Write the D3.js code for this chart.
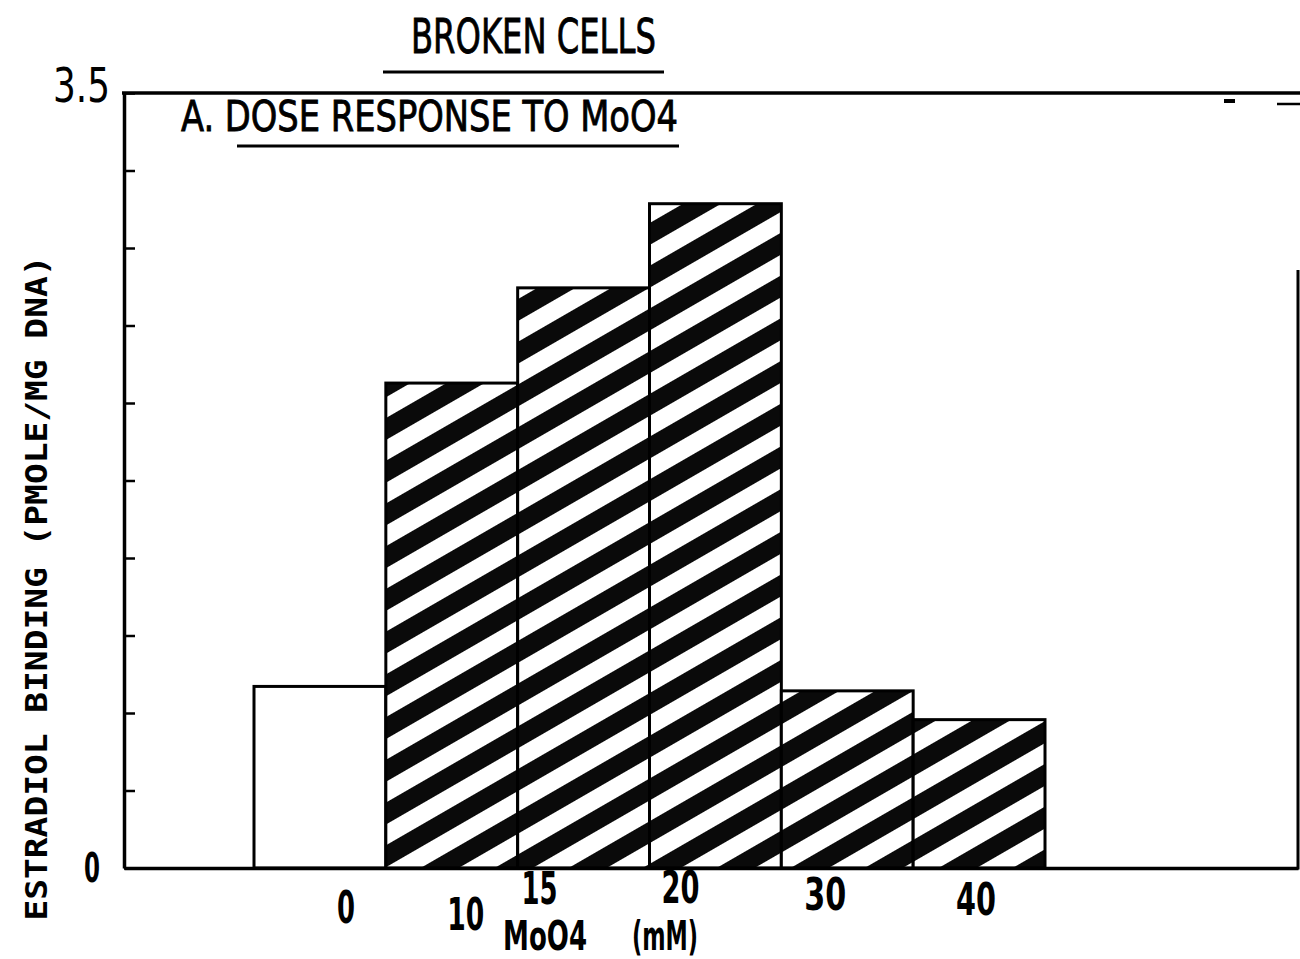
<!DOCTYPE html>
<html>
<head>
<meta charset="utf-8">
<script src="https://cdn.jsdelivr.net/npm/d3@7"></script>
<style>
  html, body { margin: 0; padding: 0; background: #fff; }
  svg { display: block; }
  .lbl { font-family: "Liberation Sans Narrow", "DejaVu Sans Condensed", "Liberation Sans", sans-serif; fill: #000; }
</style>
</head>
<body>
<svg id="chart" width="1300" height="959"></svg>
<script>
// MoO4 concentrations (mM) and estradiol binding (pmole / mg DNA)
const categories = ["0", "10", "15", "20", "30", "40"];
const binding = [0.82, 2.19, 2.62, 3.00, 0.80, 0.67];
const hatched = [false, true, true, true, true, true];

// y axis: tick marks every 0.35, labelled only at the ends
const yTickValues = [0, 0.35, 0.7, 1.05, 1.4, 1.75, 2.1, 2.45, 2.8, 3.15, 3.5];
const yLabelValues = [0, 3.5];
const yLabelText = ["0", "3.5"];

// typed tick labels sit a little off the bar centres (dx from centre, dy below axis)
const tickNudge = [[26, 55], [14, 62], [-44, 36], [-35, 35], [-22, 42], [-3, 47]];
const tickWidths = [18, 37, 36, 38, 42, 40];

const svg = d3.select("#chart");
const frame = { left: 124, right: 1298, top: 93, bottom: 868 };

const x = d3.scaleBand().domain(categories).range([254, 1045]).paddingInner(0).paddingOuter(0);
const y = d3.scaleLinear().domain([0, 3.5]).range([frame.bottom, frame.top]);

// diagonal hatch fill
const defs = svg.append("defs");
const pat = defs.append("pattern")
  .attr("id", "hatch")
  .attr("patternUnits", "userSpaceOnUse")
  .attr("width", 37).attr("height", 37)
  .attr("patternTransform", "rotate(-30)");
pat.append("rect").attr("width", 37).attr("height", 37).attr("fill", "#fff");
pat.append("rect").attr("width", 37).attr("height", 19).attr("fill", "#0a0a0a");

const data = categories.map((c, i) => ({ c, v: binding[i], h: hatched[i], i }));

// bars
svg.append("g").selectAll("rect")
  .data(data)
  .join("rect")
  .attr("x", d => x(d.c))
  .attr("y", d => y(d.v))
  .attr("width", x.bandwidth())
  .attr("height", d => y(0) - y(d.v))
  .attr("fill", d => d.h ? "url(#hatch)" : "#fff")
  .attr("stroke", "#000")
  .attr("stroke-width", 3);

// frame: left axis with inward ticks
const yAxis = d3.axisLeft(y).tickValues(yTickValues).tickSizeInner(-11).tickSizeOuter(0).tickFormat("");
const gy = svg.append("g").attr("transform", `translate(${frame.left},0)`).call(yAxis);
gy.select(".domain").attr("stroke", "#000").attr("stroke-width", 3.5);
gy.selectAll(".tick line").attr("stroke", "#000").attr("stroke-width", 2.5);

// bottom axis line
const xAxis = d3.axisBottom(d3.scaleLinear().domain([0, 1]).range([frame.left, frame.right])).tickValues([]).tickSizeOuter(0);
const gx = svg.append("g").attr("transform", `translate(0,${frame.bottom})`).call(xAxis);
gx.select(".domain").attr("stroke", "#000").attr("stroke-width", 3.5);

// top and right border
svg.append("line").attr("x1", frame.left - 2).attr("x2", 1300)
  .attr("y1", y(3.5)).attr("y2", y(3.5)).attr("stroke", "#000").attr("stroke-width", 3.5);
svg.append("line").attr("x1", frame.right).attr("x2", frame.right)
  .attr("y1", 270).attr("y2", frame.bottom + 1.5).attr("stroke", "#000").attr("stroke-width", 3);
svg.append("line").attr("x1", 1277).attr("x2", 1300)
  .attr("y1", 104).attr("y2", 104).attr("stroke", "#000").attr("stroke-width", 2.5);
svg.append("line").attr("x1", 1224).attr("x2", 1235)
  .attr("y1", 101).attr("y2", 101).attr("stroke", "#000").attr("stroke-width", 4);

// y labels
svg.append("text").attr("class", "lbl")
  .attr("x", 110).attr("y", y(yLabelValues[1]) + 9)
  .attr("text-anchor", "end").attr("font-size", 48)
  .attr("textLength", 57).attr("lengthAdjust", "spacingAndGlyphs")
  .text(yLabelText[1]);
svg.append("text").attr("class", "lbl")
  .attr("x", 84).attr("y", y(yLabelValues[0]) + 14)
  .attr("font-size", 40).attr("font-weight", "bold")
  .attr("textLength", 16).attr("lengthAdjust", "spacingAndGlyphs")
  .text(yLabelText[0]);

// category labels
svg.append("g").selectAll("text")
  .data(data)
  .join("text")
  .attr("class", "lbl")
  .attr("x", d => x(d.c) + x.bandwidth() / 2 + tickNudge[d.i][0] - tickWidths[d.i] / 2)
  .attr("y", d => y(0) + tickNudge[d.i][1])
  .attr("font-size", 44).attr("font-weight", "bold")
  .attr("textLength", d => tickWidths[d.i]).attr("lengthAdjust", "spacingAndGlyphs")
  .text(d => d.c);

// x axis title
svg.append("text").attr("class", "lbl")
  .attr("x", 503).attr("y", 950)
  .attr("font-size", 40).attr("font-weight", "bold")
  .attr("textLength", 84).attr("lengthAdjust", "spacingAndGlyphs")
  .text("MoO4");
svg.append("text").attr("class", "lbl")
  .attr("x", 632).attr("y", 950)
  .attr("font-size", 40).attr("font-weight", "bold")
  .attr("textLength", 66).attr("lengthAdjust", "spacingAndGlyphs")
  .text("(mM)");

// y axis title
svg.append("text")
  .attr("transform", "translate(47,588) rotate(-90)")
  .attr("text-anchor", "middle")
  .attr("font-family", "'DejaVu Sans Mono', 'Liberation Mono', monospace")
  .attr("font-weight", "bold").attr("font-size", 30)
  .attr("textLength", 665).attr("lengthAdjust", "spacingAndGlyphs")
  .text("ESTRADIOL BINDING (PMOLE/MG DNA)");

// titles
svg.append("text").attr("class", "lbl")
  .attr("x", 411).attr("y", 53)
  .attr("font-size", 48)
  .attr("stroke", "#000").attr("stroke-width", 0.8)
  .attr("textLength", 245).attr("lengthAdjust", "spacingAndGlyphs")
  .text("BROKEN CELLS");
svg.append("line").attr("x1", 383).attr("x2", 664).attr("y1", 72).attr("y2", 72)
  .attr("stroke", "#000").attr("stroke-width", 3);

svg.append("text").attr("class", "lbl")
  .attr("x", 181).attr("y", 131)
  .attr("font-size", 42)
  .attr("stroke", "#000").attr("stroke-width", 0.8)
  .attr("textLength", 497).attr("lengthAdjust", "spacingAndGlyphs")
  .text("A. DOSE RESPONSE TO MoO4");
svg.append("line").attr("x1", 237).attr("x2", 679).attr("y1", 146).attr("y2", 146)
  .attr("stroke", "#000").attr("stroke-width", 3);
</script>
</body>
</html>
